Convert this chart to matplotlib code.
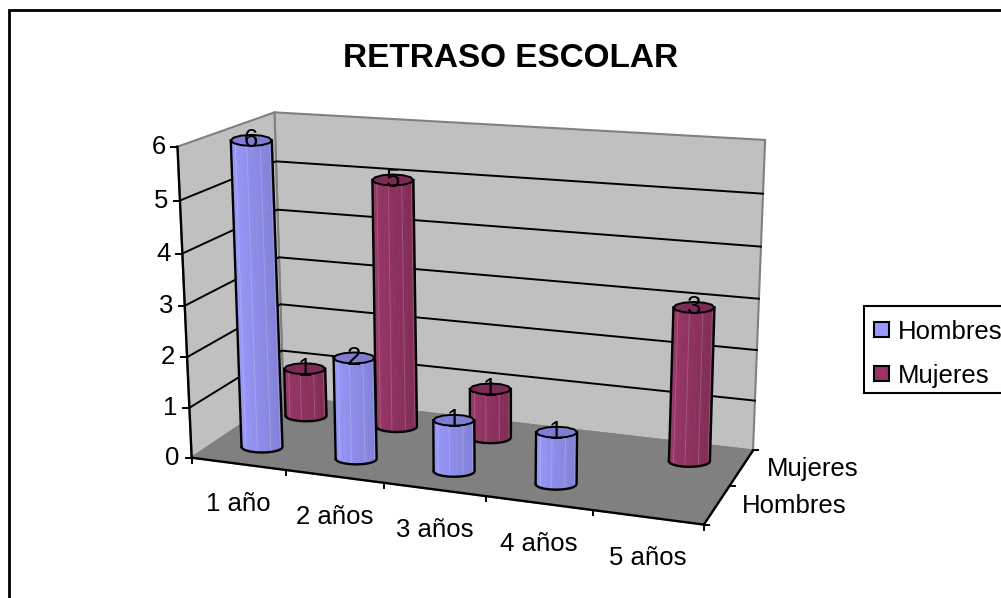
import numpy as np
import matplotlib
matplotlib.use('Agg')
import matplotlib.pyplot as plt
from matplotlib.patches import Polygon, Rectangle
from matplotlib.colors import to_rgb

plt.rcParams['font.family'] = ['Liberation Sans', 'DejaVu Sans']

# Datos
categorias = ['1 año', '2 años', '3 años', '4 años', '5 años']
series = ['Hombres', 'Mujeres']
hombres = [6, 2, 1, 1, 0]
mujeres = [1, 5, 1, 0, 3]
valores_y = [0, 1, 2, 3, 4, 5, 6]

COLOR_H = '#9999FF'
COLOR_M = '#993366'
COLOR_PARED = '#C0C0C0'
COLOR_PISO = '#808080'
FS = 18.5

N_CAT = len(categorias)
N_SER = len(series)
Z_MAX = valores_y[-1]

# calibracion de la caja 3D: esquina (categoria, serie, valor) -> pixel
esquinas = [
    ((0, 0, 0), (192, 457)),
    ((N_CAT, 0, 0), (704, 525)),
    ((N_CAT, N_SER, 0), (753, 450)),
    ((0, N_SER, 0), (283, 397)),
    ((0, 0, Z_MAX), (177, 147)),
    ((0, N_SER, Z_MAX), (275, 112)),
    ((N_CAT, N_SER, Z_MAX), (765, 140)),
]


def calibrar(esquinas):
    A, b = [], []
    for (x, y, z), (u, v) in esquinas:
        A.append([x, y, z, 1, 0, 0, 0, 0, -u*x, -u*y, -u*z])
        A.append([0, 0, 0, 0, x, y, z, 1, -v*x, -v*y, -v*z])
        b += [u, v]
    m = np.linalg.lstsq(np.array(A, float), np.array(b, float), rcond=None)[0]
    return np.append(m, 1).reshape(3, 4)


M = calibrar(esquinas)


def proy(x, y, z):
    u, v, w = M @ np.array([x, y, z, 1.0])
    return np.array([u / w, v / w])


def mezclar(c1, c2, t):
    return tuple((1 - t) * a + t * b for a, b in zip(to_rgb(c1), to_rgb(c2)))


def dibujar_cilindro(ax, cat, ser, valor, color, orden):
    base = proy(cat + 0.5, ser + 0.5, 0)
    tope = proy(cat + 0.5, ser + 0.5, valor)
    rx, ry = 20.5, 5.5
    claro = mezclar(color, 'white', 0.03)
    oscuro = mezclar(color, 'black', 0.18)

    # caras del frente, de izquierda a derecha
    ang = np.linspace(np.pi, 0, 15)
    for i in range(len(ang) - 1):
        t = i / (len(ang) - 2)
        cara = []
        for a in (ang[i], ang[i + 1]):
            cara.append(base + [rx * np.cos(a), ry * np.sin(a)])
        for a in (ang[i + 1], ang[i]):
            cara.append(tope + [rx * np.cos(a), ry * np.sin(a)])
        c = mezclar(claro, oscuro, t)
        ax.add_patch(Polygon(cara, closed=True, facecolor=c, edgecolor=c, lw=0.4, zorder=orden))
        if i % 3 == 2:
            ax.plot([cara[1][0], cara[2][0]], [cara[1][1], cara[2][1]],
                    color=mezclar(c, 'white', 0.18), lw=0.7, zorder=orden + 0.1)

    # contorno
    frente = [base + [rx * np.cos(a), ry * np.sin(a)] for a in np.linspace(np.pi, 0, 11)]
    ax.plot(*np.array(frente + [tope + [rx, 0]]).T, color='black', lw=1.7, zorder=orden + 0.2,
            solid_joinstyle='round')
    ax.plot(*np.array([tope + [-rx, 0], base + [-rx, 0]]).T, color='black', lw=1.7, zorder=orden + 0.2)

    # tapa
    circ = [tope + [rx * np.cos(a), ry * np.sin(a)] for a in np.linspace(0, 2 * np.pi, 13)[:-1]]
    ax.add_patch(Polygon(circ, closed=True, facecolor=mezclar(color, 'black', 0.18),
                         edgecolor='black', lw=1.4, zorder=orden + 0.3))


fig = plt.figure(figsize=(10.01, 5.98), dpi=100)
ax = fig.add_axes([0, 0, 1, 1])
ax.set_xlim(0, 1001)
ax.set_ylim(598, 0)
ax.axis('off')

# marco
ax.add_patch(Rectangle((9, 10), 1010, 600, facecolor='white', edgecolor='black', lw=2.0, zorder=0))

ax.text(511, 58.5, 'RETRASO ESCOLAR', fontsize=24, fontweight='bold', ha='center', va='center')

# paredes y piso
pared_fondo = [proy(0, N_SER, 0), proy(N_CAT, N_SER, 0), proy(N_CAT, N_SER, Z_MAX), proy(0, N_SER, Z_MAX)]
pared_izq = [proy(0, 0, 0), proy(0, N_SER, 0), proy(0, N_SER, Z_MAX), proy(0, 0, Z_MAX)]
piso = [proy(0, 0, 0), proy(N_CAT, 0, 0), proy(N_CAT, N_SER, 0), proy(0, N_SER, 0)]
ax.add_patch(Polygon(pared_fondo, facecolor=COLOR_PARED, edgecolor='#808080', lw=1.5, zorder=1))
ax.add_patch(Polygon(pared_izq, facecolor=COLOR_PARED, edgecolor='#808080', lw=1.5, zorder=1))
ax.add_patch(Polygon(piso, facecolor=COLOR_PISO, edgecolor='#808080', lw=1.3, zorder=1.5))

# rejilla y eje de valores
for v in valores_y:
    a, b, c = proy(0, 0, v), proy(0, N_SER, v), proy(N_CAT, N_SER, v)
    if 0 < v < Z_MAX:
        ax.plot([a[0], b[0], c[0]], [a[1], b[1], c[1]], color='black', lw=1.4, zorder=2)
    ax.plot([a[0] - 6, a[0]], [a[1], a[1]], color='black', lw=1.4, zorder=2)
    ax.text(a[0] - 19, a[1], str(v), fontsize=FS, ha='center', va='center', zorder=2)

ejes = [(proy(0, 0, 0), proy(0, 0, Z_MAX)), (proy(0, 0, 0), proy(N_CAT, 0, 0)),
        (proy(N_CAT, 0, 0), proy(N_CAT, N_SER, 0))]
for a, b in ejes:
    ax.plot([a[0], b[0]], [a[1], b[1]], color='black', lw=1.7, zorder=2)

# marcas y etiquetas de categorias
for i in range(N_CAT + 1):
    p = proy(i, 0, 0)
    ax.plot([p[0], p[0]], [p[1], p[1] + 5], color='black', lw=1.4, zorder=2)
for i, nombre in enumerate(categorias):
    p = proy(i + 0.5, 0, 0)
    ax.text(p[0], p[1] + 38, nombre, fontsize=FS, ha='center', va='center_baseline')

# marcas y etiquetas de series
for j in range(N_SER + 1):
    p = proy(N_CAT, j, 0)
    ax.plot([p[0], p[0] + 5], [p[1], p[1]], color='black', lw=1.4, zorder=2)
for j, nombre in enumerate(series):
    p = proy(N_CAT, j + 0.5, 0)
    ax.text(p[0] + 25, p[1] - 1, nombre, fontsize=FS, ha='left', va='center_baseline')

# barras, de atras hacia adelante
orden = 3
for j, (vals, color) in reversed(list(enumerate([(hombres, COLOR_H), (mujeres, COLOR_M)]))):
    for i, v in enumerate(vals):
        if v > 0:
            dibujar_cilindro(ax, i, j, v, color, orden)
            orden += 1

# etiquetas de datos
for j, vals in enumerate([hombres, mujeres]):
    for i, v in enumerate(vals):
        if v > 0:
            p = proy(i + 0.5, j + 0.5, v)
            ax.text(p[0], p[1], str(v), fontsize=FS, ha='center', va='center', zorder=100)

# leyenda
ax.add_patch(Rectangle((863.5, 306), 160, 87, facecolor='white', edgecolor='black', lw=1.5, zorder=101))
for k, (nombre, color) in enumerate(zip(series, [COLOR_H, COLOR_M])):
    y = 329.5 + k * 44
    ax.add_patch(Rectangle((874, y - 7.5), 15, 15, facecolor=color, edgecolor='black', lw=1.5, zorder=102))
    ax.text(898, y, nombre, fontsize=FS, ha='left', va='center_baseline', zorder=102)

plt.savefig('out.png', dpi=100)
